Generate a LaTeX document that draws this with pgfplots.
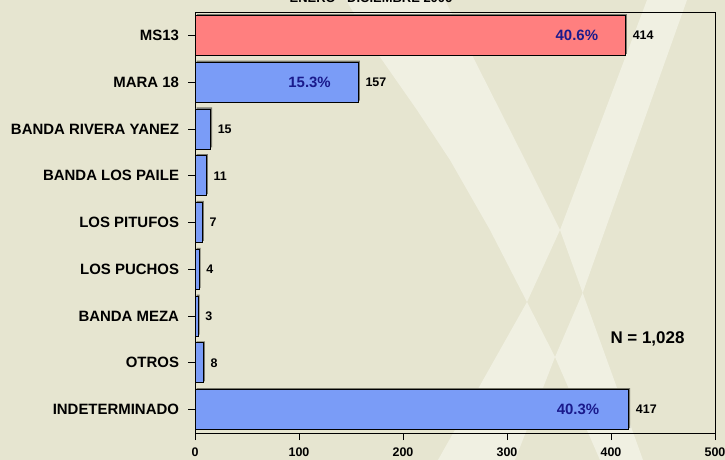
\documentclass[border=0pt]{standalone}
\usepackage{pgfplots}
\pgfplotsset{compat=1.18}
\usepackage{fontspec}
\setmainfont{Liberation Sans}
\definecolor{bg}{RGB}{230,229,208}
\definecolor{band}{RGB}{240,240,226}
\definecolor{barblue}{RGB}{122,156,247}
\definecolor{barred}{RGB}{255,127,127}
\definecolor{pctblue}{RGB}{26,26,140}
\definecolor{shadow}{RGB}{120,120,108}
\begin{document}
\begin{tikzpicture}[x=1bp,y=1bp]
\useasboundingbox (0,0) rectangle (725,460);
\clip (0,0) rectangle (725,460);
\fill[bg] (0,0) rectangle (725,460);
\fill[band, even odd rule]
  (346,460) -- (380,403) -- (417,350) -- (450,300) -- (490,230) -- (527,158) -- (555,103) -- (600,0)
  -- (643,0) -- (586,158) -- (560,230) -- (520,310) -- (473,403) -- (445,460) -- cycle
  (647,460) -- (560,230) -- (527,158) -- (438,0) -- (515,0) -- (555,103) -- (583,168) -- (687,460) -- cycle;
\node[anchor=base, font=\fontsize{13}{15}\selectfont\bfseries] at (371,457.3) {ENERO - DICIEMBRE 2006};
\begin{axis}[
  at={(195bp,27bp)}, anchor=south west, scale only axis,
  width=520bp, height=421bp,
  xbar, bar shift=0pt, bar width=40bp,
  xmin=0, xmax=500, ymin=-0.5, ymax=8.5, y dir=reverse,
  ytick={0,1,2,3,4,5,6,7,8},
  yticklabels={MS13,MARA 18,BANDA RIVERA YANEZ,BANDA LOS PAILE,LOS PITUFOS,LOS PUCHOS,BANDA MEZA,OTROS,INDETERMINADO},
  xtick={0,100,200,300,400,500},
  tick align=outside, xtick pos=bottom, ytick pos=left, major tick length=7bp,
  tick style={black, line width=0.8pt},
  axis line style={black, line width=0.8pt},
  yticklabel style={font=\fontsize{15}{17}\selectfont\bfseries, xshift=-5.5bp},
  xticklabel style={font=\fontsize{12.5}{14}\selectfont\bfseries, yshift=-4bp},
  /pgf/number format/assume math mode=true,
  nodes near coords,
  nodes near coords style={font=\fontsize{12.5}{14}\selectfont\bfseries, black, xshift=3.5bp},
  clip=false,
]
\addplot[draw=black, line width=0.8pt, fill=barred,
  preaction={fill=shadow, draw=none, transform canvas={xshift=1.5bp, yshift=1.5bp}}]
  coordinates {(414,0)};
\addplot[draw=black, line width=0.8pt, fill=barblue,
  preaction={fill=shadow, draw=none, transform canvas={xshift=1.5bp, yshift=1.5bp}}]
  coordinates {(157,1) (15,2) (11,3) (7,4) (4,5) (3,6) (8,7) (417,8)};
\node[anchor=east, xshift=-24bp, text=pctblue, font=\fontsize{15}{17}\selectfont\bfseries] at (axis cs:414,0) {40.6\%};
\node[anchor=east, xshift=-24bp, text=pctblue, font=\fontsize{15}{17}\selectfont\bfseries] at (axis cs:157,1) {15.3\%};
\node[anchor=east, xshift=-26bp, text=pctblue, font=\fontsize{15}{17}\selectfont\bfseries] at (axis cs:417,8) {40.3\%};
\end{axis}
\node[font=\fontsize{17}{20}\selectfont\bfseries] at (647.5,121.5) {N = 1,028};
\end{tikzpicture}
\end{document}
